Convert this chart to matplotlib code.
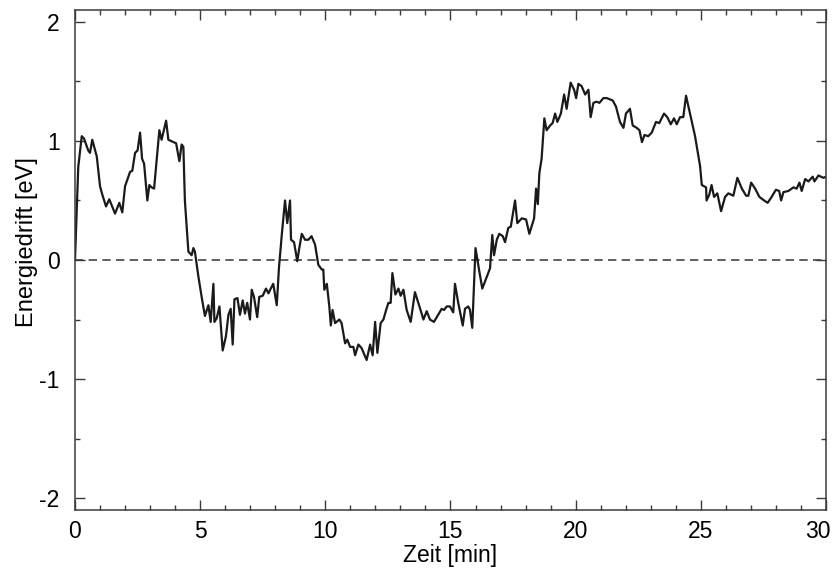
# -*- coding: utf-8 -*-
import numpy as np
import matplotlib
matplotlib.use("Agg")
import matplotlib.pyplot as plt
import matplotlib.transforms as mtransforms
from matplotlib.ticker import MultipleLocator

# --- Datos ---
zeit = [0.0, 0.13, 0.27, 0.36, 0.53, 0.60, 0.69, 0.87, 1.00, 1.09, 1.24, 1.37,
        1.60, 1.77, 1.89, 2.00, 2.20, 2.29, 2.40, 2.50, 2.60, 2.68, 2.76, 2.89,
        2.97, 3.06, 3.16, 3.37, 3.46, 3.64, 3.73, 3.93, 4.04, 4.17, 4.26, 4.33,
        4.39, 4.53, 4.66, 4.73, 4.79, 4.93, 5.06, 5.19, 5.33, 5.42, 5.53, 5.57,
        5.66, 5.77, 5.90, 6.03, 6.13, 6.22, 6.30, 6.37, 6.49, 6.59, 6.70, 6.79,
        6.88, 6.99, 7.06, 7.15, 7.28, 7.36, 7.50, 7.63, 7.73, 7.82, 7.92, 8.06,
        8.15, 8.26, 8.39, 8.48, 8.59, 8.63, 8.75, 8.88, 8.96, 9.06, 9.19, 9.32,
        9.45, 9.59, 9.72, 9.86, 9.92, 9.96, 10.06, 10.16, 10.22, 10.29, 10.39,
        10.56, 10.65, 10.79, 10.88, 10.99, 11.12, 11.19, 11.32, 11.45, 11.65,
        11.79, 11.89, 11.99, 12.08, 12.21, 12.32, 12.43, 12.52, 12.61, 12.68,
        12.80, 12.92, 13.01, 13.12, 13.25, 13.41, 13.58, 13.76, 13.92, 14.05,
        14.18, 14.34, 14.51, 14.65, 14.74, 14.85, 14.98, 15.11, 15.18, 15.31,
        15.49, 15.58, 15.71, 15.78, 15.87, 16.00, 16.14, 16.27, 16.45, 16.58,
        16.67, 16.74, 16.85, 16.95, 17.09, 17.18, 17.31, 17.41, 17.58, 17.67,
        17.85, 18.02, 18.15, 18.34, 18.42, 18.49, 18.55, 18.64, 18.75, 18.84,
        18.98, 19.08, 19.18, 19.27, 19.41, 19.54, 19.64, 19.80, 19.94, 20.02,
        20.11, 20.24, 20.38, 20.51, 20.60, 20.71, 20.84, 20.95, 21.11, 21.24,
        21.48, 21.61, 21.77, 21.91, 22.01, 22.17, 22.28, 22.44, 22.55, 22.65,
        22.75, 22.90, 23.04, 23.21, 23.34, 23.53, 23.66, 23.80, 23.93, 24.04,
        24.17, 24.30, 24.41, 24.57, 24.77, 24.97, 25.04, 25.21, 25.23, 25.34,
        25.43, 25.53, 25.66, 25.81, 25.97, 26.10, 26.30, 26.46, 26.64, 26.81,
        26.90, 27.01, 27.17, 27.34, 27.53, 27.67, 27.83, 28.00, 28.13, 28.21,
        28.30, 28.50, 28.70, 28.83, 28.94, 29.03, 29.17, 29.30, 29.47, 29.54,
        29.70, 29.90, 30.00]

energiedrift = [0.0, 0.78, 1.04, 1.02, 0.92, 0.90, 1.01, 0.87, 0.62, 0.55, 0.45, 0.51,
                0.39, 0.48, 0.40, 0.62, 0.74, 0.75, 0.90, 0.92, 1.07, 0.85, 0.81, 0.50,
                0.63, 0.61, 0.60, 1.09, 1.01, 1.17, 1.01, 0.99, 0.98, 0.83, 0.97, 0.95,
                0.50, 0.07, 0.04, 0.10, 0.07, -0.14, -0.31, -0.47, -0.38, -0.52, -0.20, -0.52,
                -0.49, -0.39, -0.76, -0.64, -0.46, -0.41, -0.71, -0.33, -0.32, -0.46, -0.34, -0.45,
                -0.36, -0.50, -0.25, -0.31, -0.48, -0.31, -0.30, -0.24, -0.28, -0.24, -0.20, -0.38,
                -0.06, 0.21, 0.50, 0.31, 0.50, 0.17, 0.15, -0.01, 0.10, 0.22, 0.17, 0.17,
                0.20, 0.13, -0.04, -0.08, -0.08, -0.25, -0.20, -0.39, -0.55, -0.42, -0.53,
                -0.50, -0.53, -0.70, -0.67, -0.73, -0.73, -0.80, -0.71, -0.74, -0.84,
                -0.71, -0.80, -0.52, -0.78, -0.53, -0.50, -0.42, -0.36, -0.36, -0.11,
                -0.29, -0.24, -0.30, -0.25, -0.42, -0.52, -0.27, -0.39, -0.50, -0.43,
                -0.50, -0.52, -0.46, -0.41, -0.42, -0.39, -0.39, -0.44, -0.20, -0.36,
                -0.55, -0.41, -0.39, -0.42, -0.57, 0.10, -0.08, -0.24, -0.14, -0.07,
                0.21, 0.04, 0.17, 0.22, 0.20, 0.15, 0.27, 0.28, 0.50, 0.31,
                0.35, 0.34, 0.22, 0.35, 0.60, 0.47, 0.73, 0.85, 1.19, 1.09,
                1.13, 1.15, 1.23, 1.16, 1.23, 1.39, 1.27, 1.49, 1.43, 1.36,
                1.48, 1.46, 1.39, 1.43, 1.20, 1.32, 1.33, 1.32, 1.36, 1.36,
                1.34, 1.29, 1.16, 1.11, 1.23, 1.27, 1.13, 1.11, 1.09, 0.99,
                1.05, 1.04, 1.07, 1.16, 1.15, 1.23, 1.20, 1.14, 1.19, 1.14,
                1.20, 1.20, 1.38, 1.23, 1.04, 0.79, 0.63, 0.61, 0.50, 0.55,
                0.63, 0.53, 0.56, 0.41, 0.53, 0.56, 0.54, 0.69, 0.60, 0.54,
                0.54, 0.65, 0.60, 0.53, 0.50, 0.48, 0.53, 0.59, 0.58, 0.50,
                0.57, 0.58, 0.61, 0.60, 0.65, 0.58, 0.68, 0.66, 0.70, 0.66,
                0.71, 0.69, 0.70]

x_ticks = [0, 5, 10, 15, 20, 25, 30]
y_ticks = [-2, -1, 0, 1, 2]

# --- Estilo ---
plt.rcParams['font.family'] = ['Liberation Sans', 'DejaVu Sans']
plt.rcParams['axes.unicode_minus'] = False
eje_color = '#3a3a3a'

fig = plt.figure(figsize=(8.36, 5.68), dpi=100)
ax = fig.add_axes([0.0897, 0.1021, 0.8983, 0.8803])

# --- Linea de cero y curva ---
ax.axhline(0, color='#444444', lw=1.2, linestyle=(0, (5.0, 3.2)), zorder=1)
ax.plot(zeit, energiedrift, color='#1a1a1a', lw=1.6, zorder=2)

ax.set_xlim(0, 30)
ax.set_ylim(-2.1, 2.1)
ax.set_xticks(x_ticks)
ax.set_yticks(y_ticks)
ax.xaxis.set_minor_locator(MultipleLocator(1))
ax.yaxis.set_minor_locator(MultipleLocator(0.5))

ax.tick_params(which='both', direction='in', top=True, right=True,
               color=eje_color, width=1.0, labelsize=16.5)
ax.tick_params(which='major', length=7)
ax.tick_params(which='minor', length=3.5)
ax.tick_params(axis='x', which='major', pad=7)
ax.tick_params(axis='y', which='major', pad=11)

for s in ax.spines.values():
    s.set_color(eje_color)
    s.set_linewidth(1.1)

# la etiqueta "30" un poco a la izquierda para que no se corte
ultimo = ax.get_xticklabels()[-1]
ultimo.set_transform(ultimo.get_transform() +
                     mtransforms.ScaledTranslation(-6 / 72, 0, fig.dpi_scale_trans))

ax.set_xlabel('Zeit [min]', fontsize=16.5, labelpad=1)
ax.set_ylabel('Energiedrift [eV]', fontsize=17)
ax.yaxis.set_label_coords(-0.049, 0.536)

plt.savefig('out.png', dpi=100)
